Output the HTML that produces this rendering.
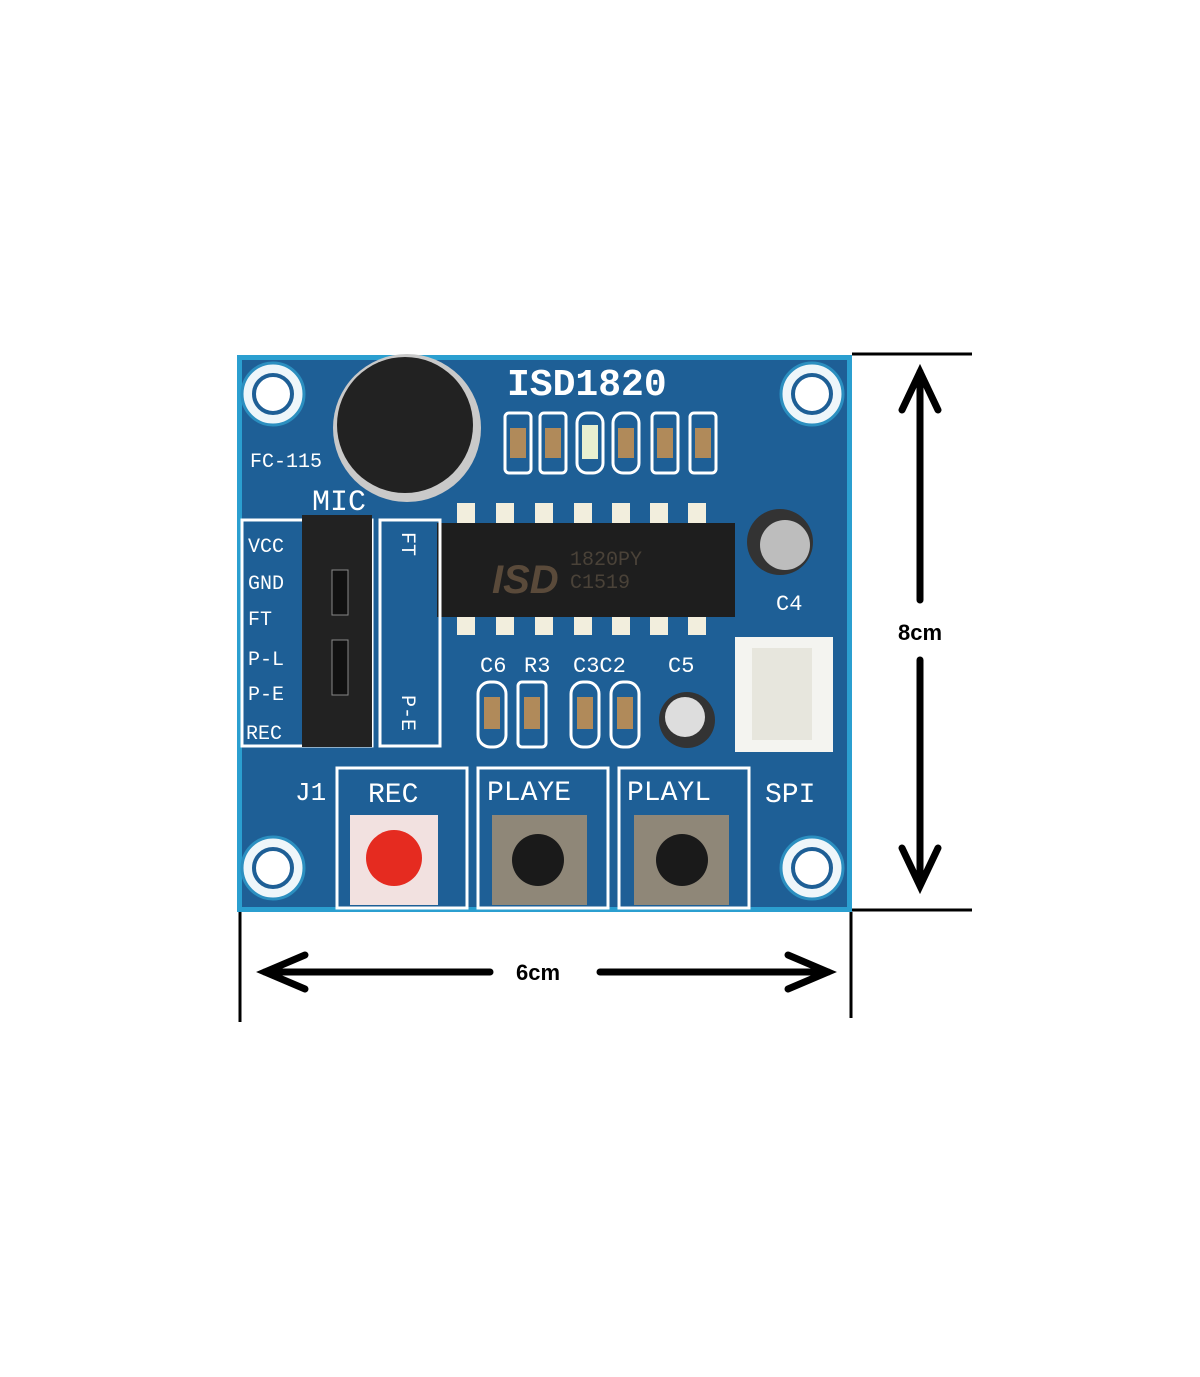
<!DOCTYPE html>
<html><head><style>html,body{margin:0;padding:0;background:#fff}</style></head><body>
<svg width="1200" height="1372" viewBox="0 0 1200 1372" xmlns="http://www.w3.org/2000/svg" font-family="Liberation Mono, DejaVu Sans Mono, monospace">
<rect width="1200" height="1372" fill="#fff"/>
<!-- board -->
<rect x="237" y="355" width="615" height="557" fill="#2b9fd0"/>
<rect x="242" y="360" width="605" height="547" fill="#1e5f96"/>
<!-- holes -->
<g fill="#eef6fa" stroke="#2b8fc0" stroke-width="3">
<circle cx="273" cy="394" r="31"/><circle cx="812" cy="394" r="31"/><circle cx="273" cy="868" r="31"/><circle cx="812" cy="868" r="31"/></g>
<g fill="#fff" stroke="#1e5f96" stroke-width="4">
<circle cx="273" cy="394" r="19"/><circle cx="812" cy="394" r="19"/><circle cx="273" cy="868" r="19"/><circle cx="812" cy="868" r="19"/></g>
<!-- mic -->
<circle cx="407" cy="428" r="74" fill="#c9c9c9"/>
<circle cx="405" cy="425" r="68" fill="#222"/>
<text x="507" y="395" font-size="38" fill="#fff" font-weight="bold">ISD1820</text>
<text x="250" y="467" font-size="20" fill="#fff">FC-115</text>
<text x="312" y="510" font-size="30" fill="#fff">MIC</text>
<!-- smd top row -->
<g fill="none" stroke="#fff" stroke-width="3">
<rect x="505" y="413" width="26" height="60" rx="4"/><rect x="540" y="413" width="26" height="60" rx="4"/>
<rect x="577" y="413" width="26" height="60" rx="10"/><rect x="613" y="413" width="26" height="60" rx="10"/>
<rect x="652" y="413" width="26" height="60" rx="4"/><rect x="690" y="413" width="26" height="60" rx="4"/></g>
<g fill="#b08a5a"><rect x="510" y="428" width="16" height="30"/><rect x="545" y="428" width="16" height="30"/><rect x="582" y="425" width="16" height="34" fill="#e7f0d0"/><rect x="618" y="428" width="16" height="30"/><rect x="657" y="428" width="16" height="30"/><rect x="695" y="428" width="16" height="30"/></g>
<!-- chip -->
<g fill="#f2eedd">
<rect x="457" y="503" width="18" height="20"/><rect x="496" y="503" width="18" height="20"/><rect x="535" y="503" width="18" height="20"/><rect x="574" y="503" width="18" height="20"/><rect x="612" y="503" width="18" height="20"/><rect x="650" y="503" width="18" height="20"/><rect x="688" y="503" width="18" height="20"/>
<rect x="457" y="617" width="18" height="18"/><rect x="496" y="617" width="18" height="18"/><rect x="535" y="617" width="18" height="18"/><rect x="574" y="617" width="18" height="18"/><rect x="612" y="617" width="18" height="18"/><rect x="650" y="617" width="18" height="18"/><rect x="688" y="617" width="18" height="18"/></g>
<rect x="437" y="523" width="298" height="94" fill="#1e1e1e"/>
<text x="492" y="593" font-size="40" fill="#5a4a3a" font-weight="bold" font-style="italic" font-family="Liberation Sans, sans-serif">ISD</text>
<text x="570" y="565" font-size="20" fill="#4a4238">1820PY</text>
<text x="570" y="588" font-size="20" fill="#4a4238">C1519</text>
<!-- cap C4 -->
<circle cx="780" cy="542" r="33" fill="#333"/><circle cx="785" cy="545" r="25" fill="#bdbdbd"/>
<text x="776" y="610" font-size="22" fill="#fff">C4</text>
<!-- connector -->
<rect x="735" y="637" width="98" height="115" fill="#f4f4f0"/><rect x="752" y="648" width="60" height="92" fill="#e7e6dd"/>
<!-- pin labels box -->
<rect x="242" y="520" width="130" height="226" fill="none" stroke="#fff" stroke-width="3"/>
<rect x="380" y="520" width="60" height="226" fill="none" stroke="#fff" stroke-width="3"/>
<g font-size="20" fill="#fff"><text x="248" y="552">VCC</text><text x="248" y="589">GND</text><text x="248" y="625">FT</text><text x="248" y="665">P-L</text><text x="248" y="700">P-E</text><text x="246" y="739">REC</text></g>
<text transform="translate(402,532) rotate(90)" font-size="20" fill="#fff">FT</text>
<text transform="translate(402,695) rotate(90)" font-size="20" fill="#fff">P-E</text>
<rect x="302" y="515" width="70" height="232" fill="#222"/>
<rect x="332" y="570" width="16" height="45" fill="#111" stroke="#888"/>
<rect x="332" y="640" width="16" height="55" fill="#111" stroke="#888"/>
<!-- lower smd -->
<g font-size="22" fill="#fff"><text x="480" y="672">C6</text><text x="524" y="672">R3</text><text x="573" y="672">C3C2</text><text x="668" y="672">C5</text></g>
<g fill="none" stroke="#fff" stroke-width="3"><rect x="478" y="682" width="28" height="65" rx="12"/><rect x="518" y="682" width="28" height="65" rx="4"/><rect x="571" y="682" width="28" height="65" rx="12"/><rect x="611" y="682" width="28" height="65" rx="12"/></g>
<g fill="#b08a5a"><rect x="484" y="697" width="16" height="32"/><rect x="524" y="697" width="16" height="32"/><rect x="577" y="697" width="16" height="32"/><rect x="617" y="697" width="16" height="32"/></g>
<circle cx="687" cy="720" r="28" fill="#333"/><circle cx="685" cy="717" r="20" fill="#ddd"/>
<!-- buttons -->
<text x="295" y="800" font-size="26" fill="#fff">J1</text>
<text x="765" y="802" font-size="28" fill="#fff">SPI</text>
<g fill="none" stroke="#fff" stroke-width="3"><rect x="337" y="768" width="130" height="140"/><rect x="478" y="768" width="130" height="140"/><rect x="619" y="768" width="130" height="140"/></g>
<g font-size="28" fill="#fff"><text x="368" y="802">REC</text><text x="487" y="800">PLAYE</text><text x="627" y="800">PLAYL</text></g>
<rect x="350" y="815" width="88" height="90" fill="#f2e1e0"/><circle cx="394" cy="858" r="28" fill="#e52b20"/>
<rect x="492" y="815" width="95" height="90" fill="#8f8778"/><circle cx="538" cy="860" r="26" fill="#1a1a1a"/>
<rect x="634" y="815" width="95" height="90" fill="#8f8778"/><circle cx="682" cy="860" r="26" fill="#1a1a1a"/>
<!-- dimensions -->
<g stroke="#000" stroke-width="3" fill="none">
<line x1="852" y1="354" x2="972" y2="354"/><line x1="852" y1="910" x2="972" y2="910"/>
<line x1="240" y1="912" x2="240" y2="1022"/><line x1="851" y1="912" x2="851" y2="1018"/></g>
<g stroke="#000" stroke-width="7" fill="none" stroke-linecap="round">
<line x1="920" y1="372" x2="920" y2="600"/><line x1="920" y1="660" x2="920" y2="885"/>
<polyline points="902,410 920,372 938,410"/><polyline points="902,848 920,886 938,848"/>
<line x1="265" y1="972" x2="490" y2="972"/><line x1="600" y1="972" x2="828" y2="972"/>
<polyline points="305,955 265,972 305,989"/><polyline points="788,955 828,972 788,989"/></g>
<g font-family="Liberation Sans, sans-serif" font-weight="bold" font-size="22" fill="#000">
<text x="898" y="640">8cm</text><text x="516" y="980">6cm</text></g>
</svg>
</body></html>
